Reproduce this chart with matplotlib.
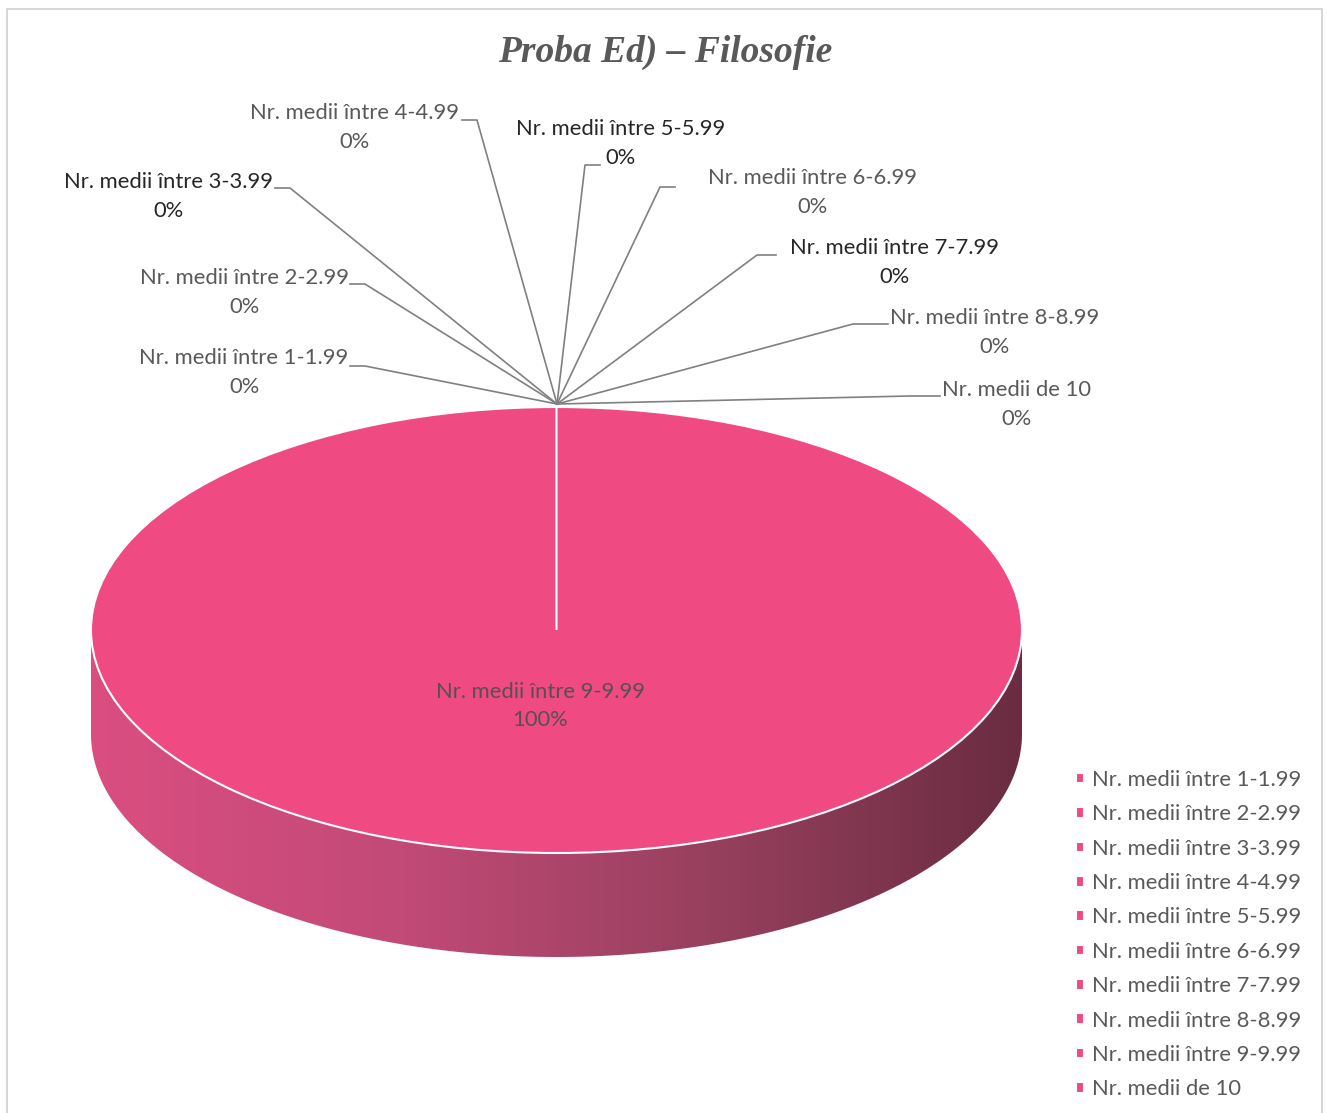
import numpy as np
import matplotlib
matplotlib.use("Agg")
import matplotlib.pyplot as plt
from matplotlib.colors import LinearSegmentedColormap
from matplotlib.patches import Polygon

# data
categories = ["Nr. medii între 1-1.99", "Nr. medii între 2-2.99", "Nr. medii între 3-3.99",
              "Nr. medii între 4-4.99", "Nr. medii între 5-5.99", "Nr. medii între 6-6.99",
              "Nr. medii între 7-7.99", "Nr. medii între 8-8.99", "Nr. medii între 9-9.99",
              "Nr. medii de 10"]
values = [0, 0, 0, 0, 0, 0, 0, 0, 100, 0]
title = "Proba Ed) – Filosofie"

W, H = 1327, 1113
FS = 15.8
plt.rcParams['font.family'] = ['Lato', 'DejaVu Sans']
fig = plt.figure(figsize=(W / 100, H / 100), dpi=100)

ax = fig.add_axes([0, 0, 1, 1])
ax.set_xlim(0, W)
ax.set_ylim(H, 0)
ax.axis('off')
ax.set_zorder(3)

# page border
ax.plot([7, 7, 1322, 1322], [1125, 9, 9, 1125], color='#cfcfcf', lw=1.2, clip_on=False)

ax.text(665, 52, title, ha='center', va='center', family='Liberation Serif',
        weight='bold', style='italic', fontsize=27, color='#595959')

# pie (3D look: ellipse top + shaded side)
top_color = '#F04A82'
left, right, top, front_bot, thick = 91, 1022, 407, 853, 104
t = thick / ((front_bot - top) / 2)
pax = fig.add_axes([left / W, 1 - (front_bot + thick) / H, (right - left) / W,
                    (front_bot + thick - top) / H])

th = np.linspace(np.pi, 2 * np.pi, 200)
xs = np.cos(th)
ys = np.sin(th)
side_pts = np.vstack([np.column_stack([xs, ys]), np.column_stack([xs[::-1], ys[::-1] - t])])
side = Polygon(side_pts, closed=True, facecolor='none', edgecolor='none')
pax.add_patch(side)
cmap = LinearSegmentedColormap.from_list('side', ['#DA4E80', '#C24A76', '#97405E', '#6A2C41'])
grad = np.linspace(0, 1, 256).reshape(1, -1)
im = pax.imshow(grad, cmap=cmap, extent=(-1, 1, -1 - t, 0), aspect='auto', zorder=1)
im.set_clip_path(side)

wedges, _ = pax.pie(values, startangle=90, counterclock=False, radius=1,
                    colors=[top_color] * len(values),
                    wedgeprops=dict(edgecolor='white', linewidth=1.5, zorder=2))
pax.set_aspect('auto')
pax.set_xlim(-1, 1)
pax.set_ylim(-1 - t, 1)
pax.axis('off')

# data labels with leader lines
pcts = ["%d%%" % round(100 * v / sum(values)) for v in values]
hub = (557, 404)
# (text center x, first line y, elbow start, elbow end, color)
lab_pos = [
    (244, 358, (365, 366), (350, 366), '#595959'),
    (244, 278, (365, 284), (350, 284), '#595959'),
    (168, 182, (290, 188), (275, 188), '#262626'),
    (354, 113, (477, 120), (462, 120), '#595959'),
    (621, 129, (585, 165), (600, 165), '#262626'),
    (813, 178, (660, 187), (675, 187), '#595959'),
    (895, 248, (757, 255), (776, 255), '#262626'),
    (995, 318, (853, 324), (888, 324), '#595959'),
    None,
    (1016, 390, (910, 396), (940, 396), '#595959'),
]
for i, pos in enumerate(lab_pos):
    if pos is None:
        continue
    cx, cy, e1, e2, col = pos
    ax.plot([hub[0], e1[0], e2[0]], [hub[1], e1[1], e2[1]], color='#808080', lw=1.2)
    ax.text(cx, cy, categories[i], ha='center', va='center', fontsize=FS, color=col)
    ax.text(cx, cy + 29, pcts[i], ha='center', va='center', fontsize=FS, color=col)

ax.text(540, 692, categories[8], ha='center', va='center', fontsize=FS, color='#5a4e55')
ax.text(540, 720, pcts[8], ha='center', va='center', fontsize=FS, color='#5a4e55')

leg = ax.legend(wedges, categories, loc='upper left', bbox_to_anchor=(1076 / W, 1 - 770 / H),
                bbox_transform=fig.transFigure, frameon=False, fontsize=FS,
                handlelength=0.36, handleheight=0.36, handletextpad=0.35,
                labelspacing=0.655, borderpad=0, borderaxespad=0)
for txt in leg.get_texts():
    txt.set_color('#595959')

fig.savefig('out.png', dpi=100)
